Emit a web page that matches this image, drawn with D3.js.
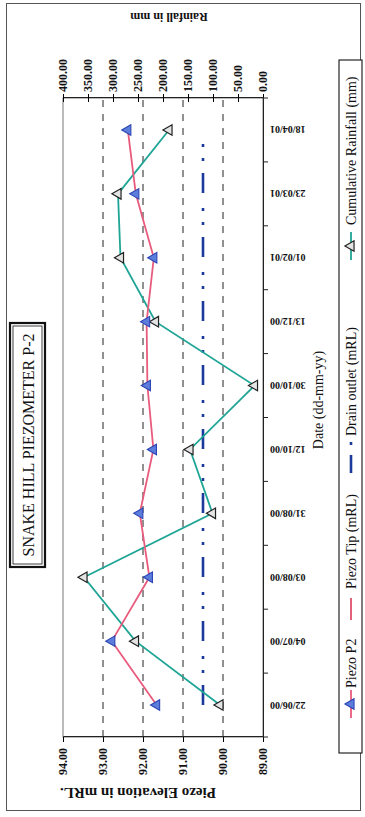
<!DOCTYPE html>
<html>
<head>
<meta charset="utf-8">
<script src="https://cdn.jsdelivr.net/npm/d3@7"></script>
<style>
  html, body { margin: 0; padding: 0; background: #fff; }
  svg { display: block; }
  text { font-family: "Liberation Serif", "Times New Roman", serif; fill: #111; }
</style>
</head>
<body>
<svg id="chart" width="365" height="817"></svg>
<script>
// Survey dates (category axis)
const dates = ["22/06/00", "04/07/00", "03/08/00", "31/08/00", "12/10/00",
               "30/10/00", "13/12/00", "01/02/01", "23/03/01", "18/04/01"];
// Piezometer P2 water level, mRL
const piezoP2 = [91.66, 92.78, 91.84, 92.08, 91.74, 91.89, 91.91, 91.73, 92.18, 92.38];
// Drain outlet level, mRL
const drainOutlet = [90.5, 90.5, 90.5, 90.5, 90.5, 90.5, 90.5, 90.5, 90.5, 90.5];
// Cumulative rainfall, mm
const rainfall = [86, 255, 358, 101, 146, 17, 215, 285, 290, 188];
// Axis ticks
const piezoTicks = [89, 90, 91, 92, 93, 94];
const rainTicks = [0, 50, 100, 150, 200, 250, 300, 350, 400];
const gridValues = [90, 91, 92, 93];
const legendItems = ["Piezo P2", "Piezo Tip (mRL)", "Drain outlet (mRL)", "Cumulative Rainfall (mm)"];

const W = 365, H = 817;
const svg = d3.select("#chart");

// Outer chart frame
svg.append("rect")
  .attr("x", 6.5).attr("y", 3.5).attr("width", 354).attr("height", 807)
  .attr("fill", "none").attr("stroke", "#555").attr("stroke-width", 1);

// The chart is laid out landscape and turned a quarter turn anticlockwise
const g = svg.append("g").attr("transform", `translate(0,${H}) rotate(-90)`);

const plot = { left: 80, right: 719, top: 63, bottom: 263 };

const x = d3.scaleBand().domain(dates).range([plot.left, plot.right]);
const yP = d3.scaleLinear().domain([89, 94]).range([plot.bottom, plot.top]);
const yR = d3.scaleLinear().domain([0, 400]).range([plot.bottom, plot.top]);
const cx = d => x(d) + x.bandwidth() / 2;

// Plot area border
g.append("rect")
  .attr("x", plot.left).attr("y", plot.top)
  .attr("width", plot.right - plot.left).attr("height", plot.bottom - plot.top)
  .attr("fill", "none").attr("stroke", "#777").attr("stroke-width", 1);

// Dashed gridlines
g.append("g").selectAll("line").data(gridValues).join("line")
  .attr("x1", plot.left).attr("x2", plot.right)
  .attr("y1", d => yP(d)).attr("y2", d => yP(d))
  .attr("stroke", "#222").attr("stroke-width", 1)
  .attr("stroke-dasharray", "7,7");

// Left axis: piezo elevation
const axP = g.append("g").attr("transform", `translate(${plot.left},0)`)
  .call(d3.axisLeft(yP).tickValues(piezoTicks).tickFormat(d3.format(".2f"))
    .tickSize(5).tickPadding(6));
axP.select(".domain").attr("stroke", "#222");
axP.selectAll("text").attr("font-size", 12).attr("font-weight", "bold")
  .style("font-family", "Liberation Serif");

// Right axis: rainfall
const axR = g.append("g").attr("transform", `translate(${plot.right},0)`)
  .call(d3.axisRight(yR).tickValues(rainTicks).tickFormat(d3.format(".2f"))
    .tickSize(4).tickPadding(2));
axR.select(".domain").attr("stroke", "#222");
axR.selectAll(".tick line").attr("x1", -4).attr("x2", 4);
axR.selectAll("text").attr("font-size", 12).attr("font-weight", "bold")
  .style("font-family", "Liberation Serif");

// Category axis: dates
const axX = g.append("g").attr("transform", `translate(0,${plot.bottom})`)
  .call(d3.axisBottom(x).tickSize(0));
axX.select(".domain").attr("stroke", "#222");
axX.selectAll("text")
  .attr("transform", "rotate(-90)")
  .attr("x", -7).attr("y", 0).attr("dy", "0.35em")
  .attr("text-anchor", "end")
  .attr("font-size", 10).attr("font-weight", "bold")
  .style("font-family", "Liberation Serif");
// tick marks between categories
axX.append("g").selectAll("line").data(d3.range(dates.length + 1)).join("line")
  .attr("x1", i => plot.left + i * x.step()).attr("x2", i => plot.left + i * x.step())
  .attr("y1", 0).attr("y2", 5)
  .attr("stroke", "#222");

// Drain outlet line
g.append("path").datum(dates)
  .attr("fill", "none").attr("stroke", "#1b3a9c").attr("stroke-width", 2.6)
  .attr("stroke-dasharray", "20,12,3,11,3,15")
  .attr("d", d3.line().x(d => cx(d)).y((d, i) => yP(drainOutlet[i])));

// Cumulative rainfall line + markers
g.append("path").datum(dates)
  .attr("fill", "none").attr("stroke", "#1fa596").attr("stroke-width", 1.8)
  .attr("d", d3.line().x(d => cx(d)).y((d, i) => yR(rainfall[i])));

// Piezo P2 line + markers
g.append("path").datum(dates)
  .attr("fill", "none").attr("stroke", "#e95b7c").attr("stroke-width", 1.8)
  .attr("d", d3.line().x(d => cx(d)).y((d, i) => yP(piezoP2[i])));

const tri = d3.symbol().type(d3.symbolTriangle).size(48);

g.append("g").selectAll("path").data(dates).join("path")
  .attr("d", tri)
  .attr("transform", (d, i) => `translate(${cx(d)},${yR(rainfall[i])})`)
  .attr("fill", "#e4e4e4").attr("stroke", "#222").attr("stroke-width", 1.2);

g.append("g").selectAll("path").data(dates).join("path")
  .attr("d", tri)
  .attr("transform", (d, i) => `translate(${cx(d)},${yP(piezoP2[i])})`)
  .attr("fill", "#5d7ddc").attr("stroke", "#2b45b5").attr("stroke-width", 1.1);

// Axis titles
g.append("text")
  .attr("transform", "translate(24,138) rotate(-90)")
  .attr("text-anchor", "middle").attr("dy", "0.35em")
  .attr("font-size", 15).attr("font-weight", "bold")
  .text("Piezo Elevation in mRL.");

g.append("text")
  .attr("transform", "translate(800,169) rotate(-90)")
  .attr("text-anchor", "middle").attr("dy", "0.35em")
  .attr("font-size", 12).attr("font-weight", "bold")
  .text("Rainfall in mm");

g.append("text")
  .attr("x", 417).attr("y", 318).attr("dy", "0.35em")
  .attr("text-anchor", "middle")
  .attr("font-size", 14)
  .text("Date (dd-mm-yy)");

// Title box
g.append("rect").attr("x", 250).attr("y", 10).attr("width", 244).attr("height", 35)
  .attr("fill", "#fff").attr("stroke", "#111").attr("stroke-width", 2.2);
g.append("rect").attr("x", 253).attr("y", 13).attr("width", 238).attr("height", 29)
  .attr("fill", "none").attr("stroke", "#111").attr("stroke-width", 0.8);
g.append("text")
  .attr("x", 372).attr("y", 28).attr("dy", "0.35em")
  .attr("text-anchor", "middle").attr("font-size", 16)
  .text("SNAKE HILL PIEZOMETER P-2");

// Legend
const lg = g.append("g");
lg.append("rect").attr("x", 64).attr("y", 339).attr("width", 693).attr("height", 23)
  .attr("fill", "#fff").attr("stroke", "#111").attr("stroke-width", 1.1);
const ly = 351;
// Piezo P2
lg.append("line").attr("x1", 99).attr("x2", 127).attr("y1", ly).attr("y2", ly)
  .attr("stroke", "#e95b7c").attr("stroke-width", 1.8);
lg.append("path").attr("d", tri).attr("transform", `translate(113,${ly})`)
  .attr("fill", "#5d7ddc").attr("stroke", "#2b45b5").attr("stroke-width", 1.1);
// Piezo Tip
lg.append("line").attr("x1", 197).attr("x2", 219).attr("y1", ly).attr("y2", ly)
  .attr("stroke", "#e0506a").attr("stroke-width", 1.8);
// Drain outlet
lg.append("line").attr("x1", 344).attr("x2", 362).attr("y1", ly).attr("y2", ly)
  .attr("stroke", "#1b3a9c").attr("stroke-width", 2.6);
lg.append("line").attr("x1", 372).attr("x2", 375).attr("y1", ly).attr("y2", ly)
  .attr("stroke", "#1b3a9c").attr("stroke-width", 2.6);
// Cumulative rainfall
lg.append("line").attr("x1", 557).attr("x2", 585).attr("y1", ly).attr("y2", ly)
  .attr("stroke", "#1fa596").attr("stroke-width", 1.8);
lg.append("path").attr("d", tri).attr("transform", `translate(571,${ly})`)
  .attr("fill", "#e4e4e4").attr("stroke", "#222").attr("stroke-width", 1.2);

const legendX = [129, 228, 381, 592];
lg.selectAll("text.lt").data(legendItems).join("text")
  .attr("class", "lt")
  .attr("x", (d, i) => legendX[i]).attr("y", ly).attr("dy", "0.35em")
  .attr("font-size", 14)
  .text(d => d);
</script>
</body>
</html>
